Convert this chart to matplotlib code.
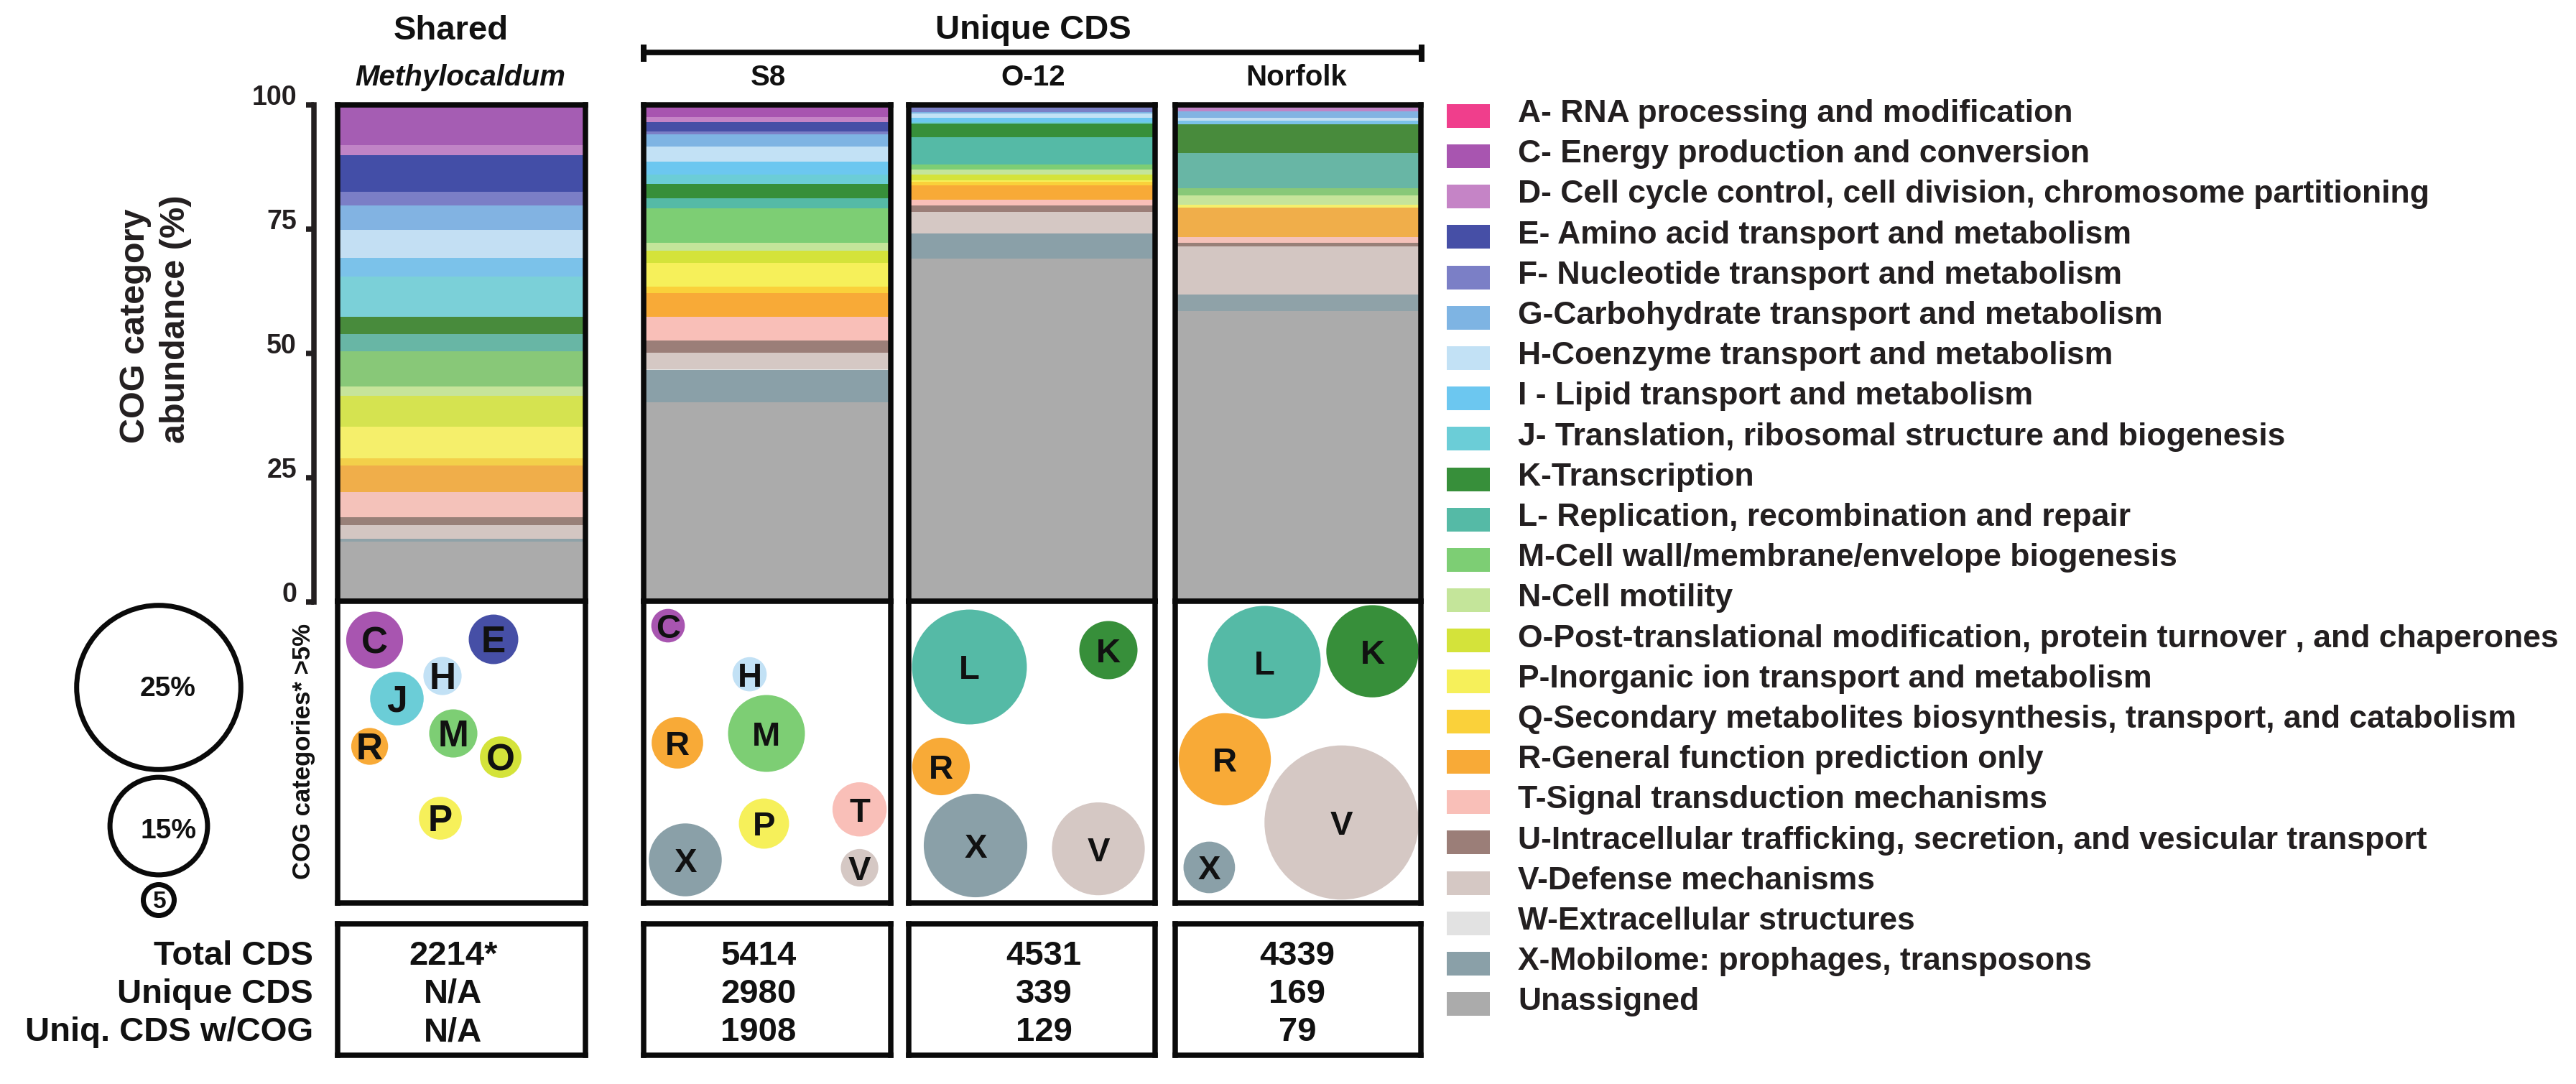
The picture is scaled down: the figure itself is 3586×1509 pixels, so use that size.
import matplotlib
matplotlib.use('Agg')
import matplotlib.pyplot as plt
from matplotlib.patches import Circle, Rectangle

plt.rcParams['font.family'] = ['Liberation Sans', 'DejaVu Sans']
plt.rcParams['font.weight'] = 'bold'

# ---------------- data ----------------
categories = ['A', 'C', 'D', 'E', 'F', 'G', 'H', 'I', 'J', 'K', 'L', 'M', 'N',
              'O', 'P', 'Q', 'R', 'T', 'U', 'V', 'W', 'X', 'Unassigned']
legend_labels = [
    'A- RNA processing and modification',
    'C- Energy production and conversion',
    'D- Cell cycle control, cell division, chromosome partitioning',
    'E- Amino acid transport and metabolism',
    'F- Nucleotide transport and metabolism',
    'G-Carbohydrate transport and metabolism',
    'H-Coenzyme transport and metabolism',
    'I - Lipid transport and metabolism',
    'J- Translation, ribosomal structure and biogenesis',
    'K-Transcription',
    'L- Replication, recombination and repair',
    'M-Cell wall/membrane/envelope biogenesis',
    'N-Cell motility',
    'O-Post-translational modification, protein turnover , and chaperones',
    'P-Inorganic ion transport and metabolism',
    'Q-Secondary metabolites biosynthesis, transport, and catabolism',
    'R-General function prediction only',
    'T-Signal transduction mechanisms',
    'U-Intracellular trafficking, secretion, and vesicular transport',
    'V-Defense mechanisms',
    'W-Extracellular structures',
    'X-Mobilome: prophages, transposons',
    'Unassigned',
]
samples = ['Shared', 'S8', 'O-12', 'Norfolk']

# COG category abundance (%) per sample, in the order of `categories`
shared_pct = [0, 8.15, 1.95, 7.47, 2.73, 4.83, 5.76, 3.66, 8.2, 3.4, 3.5, 7.1, 1.9,
              6.2, 6.3, 1.5, 5.4, 5.0, 1.6, 2.7, 0.0, 0.6, 12.05]
s8_pct = [0, 2.49, 1.02, 1.9, 0.59, 2.34, 3.07, 2.59, 1.95, 2.93, 1.9, 7.03, 1.61,
          2.49, 4.69, 1.3, 4.8, 4.8, 2.4, 3.3, 0.2, 6.5, 40.1]
o12_pct = [0, 0.15, 0, 0.25, 1.07, 0.3, 0.88, 0.78, 0.39, 2.63, 5.56, 1.02, 0.93,
           1.27, 0.29, 0.73, 2.78, 1.17, 1.32, 4.39, 0, 4.98, 69.1]
norfolk_pct = [0, 0, 1.32, 0, 0, 1.32, 0.59, 0.73, 0, 5.71, 7.17, 1.32, 1.9,
               0, 0.59, 0, 6.0, 1.17, 0.73, 9.63, 0, 3.41, 58.4]

# COG categories >5% (bubble values, %)
shared_bubble_cats = ['C', 'E', 'H', 'J', 'M', 'R', 'O', 'P']
shared_bubble_pct = [8.1, 7.0, 5.3, 7.6, 6.8, 5.1, 5.8, 6.0]
s8_bubble_cats = ['C', 'H', 'M', 'R', 'P', 'T', 'X', 'V']
s8_bubble_pct = [4.6, 4.7, 11.1, 7.3, 7.1, 7.7, 10.5, 5.2]
o12_bubble_cats = ['L', 'K', 'R', 'X', 'V']
o12_bubble_pct = [16.8, 8.3, 8.2, 15.1, 13.5]
norfolk_bubble_cats = ['L', 'K', 'R', 'V', 'X']
norfolk_bubble_pct = [16.5, 13.4, 13.4, 22.7, 7.3]
bubble_legend_values = [25, 15, 5]
bubble_legend_labels = ['25%', '15%', '5']

# table
table_rows = ['Total CDS', 'Unique CDS', 'Uniq. CDS w/COG']
total_cds = ['2214*', '5414', '4531', '4339']
unique_cds = ['N/A', '2980', '339', '169']
uniq_cds_cog = ['N/A', '1908', '129', '79']

# ---------------- style / layout ----------------
palette = {'A': '#F03E8C', 'C': '#A855B0', 'D': '#C584C6', 'E': '#464FA6',
           'F': '#7B7FC6', 'G': '#7EB4E3', 'H': '#C2E1F5', 'I': '#6CC7F0',
           'J': '#6BCDD7', 'K': '#378F3A', 'L': '#55BAA6', 'M': '#7DCE74',
           'N': '#C4E59A', 'O': '#D4E33A', 'P': '#F6F05A', 'Q': '#FAD13A',
           'R': '#F8AA37', 'T': '#F9BFB8', 'U': '#9B7E78', 'V': '#D5C8C4',
           'W': '#E2E2E2', 'X': '#8AA0A8', 'Unassigned': '#ABABAB'}
muted = {'C': '#A55DB3', 'D': '#C084C6', 'E': '#434EA7', 'F': '#7B7EC6',
         'G': '#82B3E2', 'H': '#C3DFF3', 'I': '#7BC2EA', 'J': '#7BD0D8',
         'K': '#488B3C', 'L': '#68B6A5', 'M': '#88C878', 'N': '#C6E49A',
         'O': '#D5E350', 'P': '#F5EF6B', 'Q': '#F3D04A', 'R': '#F0AE4A',
         'T': '#F4C2BA', 'U': '#988078', 'V': '#D3C6C2', 'X': '#8FA2A8'}

W, H, DPI = 3587, 1509, 200
PT = 72.0 / DPI          # points per pixel
INK = '#111111'
FRAME = '#0A0A0A'
LW = 7.5 * PT

panel_x = [(470, 815), (896, 1240), (1265, 1608), (1636, 1978)]
BAR_Y = (146, 837)
BUB_Y = (837, 1257)
TAB_Y = (1285.5, 1468.5)
table_text_x = [631, 1056, 1453, 1806]
table_baselines = [1343, 1396, 1449]

bubble_pos = {
    'Shared': [(51.5, 54), (217, 53), (146, 104), (82.5, 135.5), (161, 184),
               (44.6, 202), (227, 217), (143, 302)],
    'S8': [(34, 34), (147.5, 101.6), (171, 184), (47, 197), (167.5, 309.5),
           (300.6, 289.7), (58, 360), (300.6, 371)],
    'O-12': [(84.5, 91.5), (278, 68), (45, 230), (93, 340), (264, 344.6)],
    'Norfolk': [(124, 85), (274.5, 69.6), (69, 220), (231.6, 308), (47.4, 370.5)],
}


def radius(v):
    return 2 + 4.64 * v


def fax(x0, y0, x1, y1, **kw):
    return fig.add_axes([x0 / W, 1 - y1 / H, (x1 - x0) / W, (y1 - y0) / H], **kw)


def frame(ax):
    for s in ax.spines.values():
        s.set_linewidth(LW)
        s.set_color(FRAME)
    ax.set_xticks([])
    ax.set_yticks([])


fig = plt.figure(figsize=(W / DPI, H / DPI), dpi=DPI)

# overlay in pixel coordinates (for titles, legends, labels)
ov = fig.add_axes([0, 0, 1, 1])
ov.set_xlim(0, W)
ov.set_ylim(H, 0)
ov.axis('off')

pct_data = [shared_pct, s8_pct, o12_pct, norfolk_pct]
bub_cats = [shared_bubble_cats, s8_bubble_cats, o12_bubble_cats, norfolk_bubble_cats]
bub_vals = [shared_bubble_pct, s8_bubble_pct, o12_bubble_pct, norfolk_bubble_pct]
table_cols = list(zip(total_cds, unique_cds, uniq_cds_cog))

for k, name in enumerate(samples):
    x0, x1 = panel_x[k]
    cols = dict(palette)
    if name in ('Shared', 'Norfolk'):
        cols.update(muted)
    # stacked bar
    ax = fax(x0, BAR_Y[0], x1, BAR_Y[1])
    bottom = 0.0
    for cat, v in zip(categories[::-1], pct_data[k][::-1]):
        if v > 0:
            ax.bar(0, v, bottom=bottom, width=1.0, color=cols[cat], linewidth=0)
        bottom += v
    ax.set_xlim(-0.5, 0.5)
    ax.set_ylim(0, 100)
    frame(ax)

    # bubble panel
    bx = fax(x0, BUB_Y[0], x1, BUB_Y[1])
    bw, bh = x1 - x0, BUB_Y[1] - BUB_Y[0]
    bx.set_xlim(0, bw)
    bx.set_ylim(bh, 0)
    fs = 18.5 if name == 'Shared' else 17
    for cat, v, (cx, cy) in zip(bub_cats[k], bub_vals[k], bubble_pos[name]):
        bx.add_patch(Circle((cx, cy), radius(v), facecolor=palette[cat],
                            edgecolor='none'))
        bx.text(cx, cy + 0.358 * fs / PT, cat, ha='center', va='baseline',
                fontsize=fs, color=INK, fontweight='bold')
    frame(bx)

    # table
    tx = fax(x0, TAB_Y[0], x1, TAB_Y[1])
    tx.set_xlim(x0, x1)
    tx.set_ylim(TAB_Y[1], TAB_Y[0])
    for val, yb in zip(table_cols[k], table_baselines):
        tx.text(table_text_x[k], yb, val, ha='center', va='baseline',
                fontsize=17, color=INK, fontweight='bold')
    frame(tx)

# y axis for the bars
ya = fax(437, 145.5, 470, 838.3)
ya.patch.set_alpha(0)
for side in ('top', 'right', 'bottom'):
    ya.spines[side].set_visible(False)
ya.spines['left'].set_linewidth(LW)
ya.spines['left'].set_color('#231F20')
ya.set_ylim(0, 100)
ya.set_xticks([])
ya.set_yticks([0, 25, 50, 75, 100])
ya.set_yticklabels(['0', '25', '50', '75', '100'], fontsize=13.5,
                   fontweight='bold', va='baseline', color='#231F20')
ya.tick_params(axis='y', length=11 * PT, width=LW, pad=13 * PT,
               color='#231F20')

# titles
ov.text(628, 55, 'Shared', ha='center', va='baseline', fontsize=17, color=INK)
ov.text(640.5, 119, 'Methylocaldum', ha='center', va='baseline', fontsize=14.5,
        style='italic', color=INK)
ov.text(1438, 54, 'Unique CDS', ha='center', va='baseline', fontsize=17, color=INK)
for nm, xc in zip(samples[1:], [1069, 1438.5, 1805]):
    ov.text(xc, 119, nm, ha='center', va='baseline', fontsize=14.5, color=INK)
ov.plot([896, 1979], [72.8, 72.8], color=FRAME, lw=7.7 * PT, solid_capstyle='butt')
ov.plot([896, 896], [62, 85.7], color=FRAME, lw=8 * PT, solid_capstyle='butt')
ov.plot([1979, 1979], [62, 85.7], color=FRAME, lw=8 * PT, solid_capstyle='butt')

# axis labels
ov.text(216.5, 444.5, 'COG category\nabundance (%)', rotation=90, ha='center',
        va='center', multialignment='left', fontsize=17.5, linespacing=1.3,
        color='#231F20')
ov.text(423, 1046, 'COG categories* >5%', rotation=90, ha='center', va='center',
        fontsize=12.5, color=INK)

# bubble size legend
for v, lab, (cx, cy), (lx, lb), fsz in zip(
        bubble_legend_values, bubble_legend_labels,
        [(221, 957), (221, 1150), (221, 1253)],
        [(234, 969), (235, 1167), (222.6, 1264)], [14, 14, 12]):
    ov.add_patch(Circle((cx, cy), radius(v) - 3.7, fill=False, edgecolor=FRAME,
                        linewidth=7 * PT))
    ov.text(lx, lb, lab, ha='center', va='baseline', fontsize=fsz, color=INK)

# table row labels
for lab, yb in zip(table_rows, table_baselines):
    ov.text(436, yb, lab, ha='right', va='baseline', fontsize=17, color=INK)

# category legend
for i, (cat, lab) in enumerate(zip(categories, legend_labels)):
    cy = 161.3 + i * 56.2
    ov.add_patch(Rectangle((2014, cy - 16.5), 60, 33, facecolor=palette[cat],
                           edgecolor='none'))
    ov.text(2113, cy + 8.7, lab, ha='left', va='baseline', fontsize=16,
            color='#231F20')

fig.savefig('out.png', dpi=DPI)
